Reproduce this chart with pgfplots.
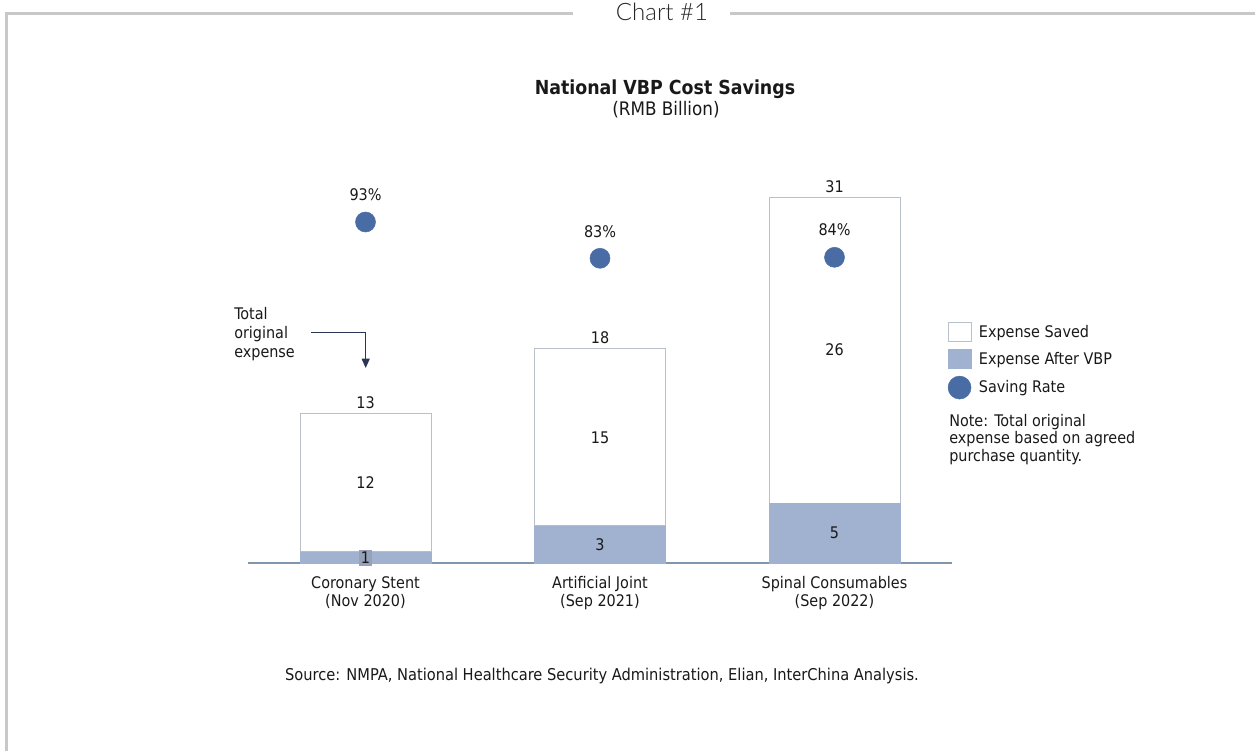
\documentclass[border=0pt]{standalone}
\usepackage{fontspec}
\setmainfont{DejaVu Sans Condensed}[BoldFont={DejaVu Sans Condensed Bold}]
\newfontfamily\lightfont{Lato Light}
\usepackage{pgfplots}
\pgfplotsset{compat=1.18}
\usetikzlibrary{arrows.meta}
\definecolor{barblue}{RGB}{160,178,208}
\definecolor{dotblue}{RGB}{74,108,164}
\definecolor{edge}{RGB}{184,192,204}
\definecolor{baseln}{RGB}{127,150,172}
\definecolor{framec}{RGB}{200,200,200}
\definecolor{txt}{RGB}{25,25,25}
\definecolor{navy}{RGB}{40,55,85}
\definecolor{onebg}{RGB}{150,162,184}
\tikzset{lbl/.style={font=\fontsize{12}{14}\selectfont, text=txt}}
\begin{document}
\begin{tikzpicture}[x=0.75pt,y=0.75pt]
\path[use as bounding box] (0,0) rectangle (1255,751);
% frame
\draw[framec, line width=2.25pt] (6,0) -- (6,737) -- (573,737);
\draw[framec, line width=2.25pt] (730,737) -- (1255,737);
\node[font=\lightfont\fontsize{18}{20}\selectfont, text=black!85] at (662,739) {Chart \#1};
% titles
\node[font=\bfseries\fontsize{14.5}{16}\selectfont, text=txt] at (665,662) {National VBP Cost Savings};
\node[font=\fontsize{14}{16}\selectfont, text=txt] at (666,641) {(RMB Billion)};
% bars
\begin{axis}[
  at={(186.1875pt,141pt)}, anchor=south west, scale only axis,
  width=527.625pt, height=354pt,
  xmin=-0.5, xmax=2.5, ymin=0, ymax=40,
  axis x line*=bottom, hide y axis,
  x axis line style={baseln, line width=1.2pt, -},
  xtick={0,1,2},
  xticklabels={{Coronary Stent\\(Nov 2020)},{Artificial Joint\\(Sep 2021)},{Spinal Consumables\\(Sep 2022)}},
  major tick length=0pt,
  xticklabel style={align=center, font=\fontsize{12}{13.5}\selectfont, text=txt, inner sep=0pt, yshift=-10pt},
  ytick=\empty,
  ybar stacked, bar width=98.25pt,
  clip=false,
]
\addplot[fill=barblue, draw=barblue] coordinates {(0,0.95) (1,3.14) (2,5.08)};
\addplot[fill=white, draw=edge, line width=0.75pt] coordinates {(0,11.68) (1,15.0) (2,25.92)};
\coordinate (t0) at (axis cs:0,12.63);
\coordinate (t1) at (axis cs:1,18.14);
\coordinate (t2) at (axis cs:2,31.0);
\coordinate (s0) at (axis cs:0,6.79);
\coordinate (s1) at (axis cs:1,10.64);
\coordinate (s2) at (axis cs:2,18.04);
\coordinate (a0) at (axis cs:0,0.42);
\coordinate (a1) at (axis cs:1,1.57);
\coordinate (a2) at (axis cs:2,2.54);
\end{axis}
\node[lbl, yshift=8.25pt] at (t0) {13};
\node[lbl, yshift=8.25pt] at (t1) {18};
\node[lbl, yshift=8.25pt] at (t2) {31};
\node[lbl] at (s0) {12};
\node[lbl] at (s1) {15};
\node[lbl] at (s2) {26};
\node[lbl, fill=onebg, inner sep=1.5pt] at (a0) {1};
\node[lbl] at (a1) {3};
\node[lbl] at (a2) {5};
% saving rate
\begin{axis}[
  at={(186.1875pt,141pt)}, anchor=south west, scale only axis,
  width=527.625pt, height=354pt,
  xmin=-0.5, xmax=2.5, ymin=0, ymax=128.26,
  hide axis, clip=false,
  legend cell align=left,
  legend style={at={(0.9937,0.5105)}, anchor=north west, draw=none, fill=none,
    inner sep=0pt, row sep=5.3pt, font=\fontsize{12}{14}\selectfont, text=txt,
    nodes={inner sep=0pt}, /tikz/every even column/.append style={column sep=0pt},
    /tikz/every odd column/.append style={column sep=5.5pt}},
]
\addlegendimage{legend image code/.code={\draw[fill=white,draw=edge,line width=0.75pt] (0pt,-7.1pt) rectangle (17.25pt,7.1pt);}}
\addlegendentry{Expense Saved}
\addlegendimage{legend image code/.code={\fill[barblue] (0pt,-7.1pt) rectangle (17.25pt,7.1pt);}}
\addlegendentry{Expense After VBP}
\addplot[only marks, mark=*, mark size=7.5pt, color=dotblue,
  legend image code/.code={\fill[dotblue] (8.6pt,0pt) circle (8.6pt);}]
  coordinates {(0,92.66) (1,82.8) (2,83.07)};
\addlegendentry{Saving Rate}
\node[lbl, yshift=20.25pt] at (axis cs:0,92.66) {93\%};
\node[lbl, yshift=20.25pt] at (axis cs:1,82.8) {83\%};
\node[lbl, yshift=20.75pt] at (axis cs:2,83.07) {84\%};
\end{axis}
% annotation
\node[anchor=base west, align=left, font=\fontsize{12}{14.25}\selectfont, text=txt, inner sep=0pt] at (234,394) {Total\\original\\expense};
\draw[navy, line width=0.9pt, -{Triangle[width=6pt,length=7pt]}] (311,418.3) -| (365.7,383);
% note
\node[anchor=north west, align=left, font=\fontsize{12}{13}\selectfont, text=txt, inner sep=0pt] at (949,337) {Note: Total original\\expense based on agreed\\purchase quantity.};
% source
\node[font=\fontsize{12.2}{14}\selectfont, text=txt] at (602,75) {Source: NMPA, National Healthcare Security Administration, Elian, InterChina Analysis.};
\end{tikzpicture}
\end{document}
